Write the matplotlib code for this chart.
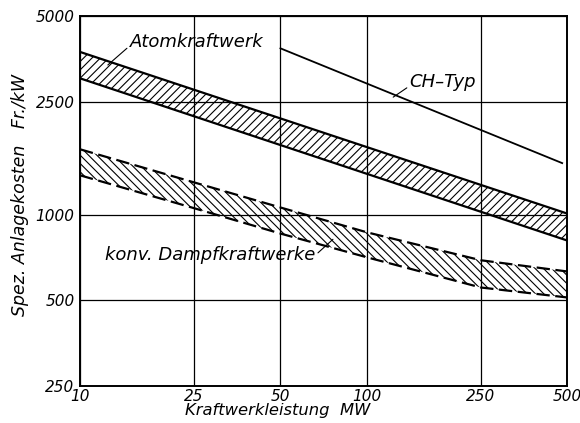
import matplotlib
matplotlib.use("Agg")
import matplotlib.pyplot as plt

plt.rcParams["font.family"] = ["DejaVu Sans"]
plt.rcParams["hatch.linewidth"] = 0.8

x_atom = [10, 500]
atom_oben = [3740, 1010]
atom_unten = [3020, 812]

x_ch = [50, 480]
ch_typ = [3850, 1520]

x_konv = [10, 25, 50, 100, 250, 500]
konv_oben = [1700, 1300, 1061, 868, 692, 632]
konv_unten = [1377, 1055, 859, 709, 555, 512]

xticks = [10, 25, 50, 100, 250, 500]
yticks = [250, 500, 1000, 2500, 5000]

fig = plt.figure(figsize=(5.8, 4.23), dpi=100)
ax = fig.add_axes([0.138, 0.0875, 0.840, 0.8745])
ax.set_xscale("log")
ax.set_yscale("log")
ax.set_xlim(10, 500)
ax.set_ylim(250, 5000)

ax.fill_between(x_atom, atom_unten, atom_oben, facecolor="none", edgecolor="k",
                hatch="////", lw=0)
ax.plot(x_atom, atom_oben, "-k", lw=1.6)
ax.plot(x_atom, atom_unten, "-k", lw=1.6)

ax.fill_between(x_konv, konv_unten, konv_oben, facecolor="none", edgecolor="k",
                hatch="\\\\\\\\", lw=0)
ax.plot(x_konv, konv_oben, "-k", lw=1.6, dashes=(6, 2.5))
ax.plot(x_konv, konv_unten, "-k", lw=1.6, dashes=(6, 2.5))

ax.plot(x_ch, ch_typ, "-k", lw=1.3)

ax.set_xticks(xticks)
ax.set_xticklabels([str(t) for t in xticks])
ax.set_yticks(yticks)
ax.set_yticklabels([str(t) for t in yticks])
ax.minorticks_off()
ax.tick_params(length=0, labelsize=11, pad=4)
ax.tick_params(axis="x", pad=2)
for lab in ax.get_xticklabels() + ax.get_yticklabels():
    lab.set_style("italic")
ax.grid(True, color="k", lw=0.9)
for s in ax.spines.values():
    s.set_linewidth(1.4)

leader = dict(arrowstyle="-", color="k", lw=0.8, shrinkA=0, shrinkB=0)
ax.annotate("Atomkraftwerk", xy=(12.5, 3365), xytext=(14.9, 4045),
            fontsize=13, style="italic", va="center",
            arrowprops=dict(leader, relpos=(0, 0.3)))
ax.annotate("CH\u2013Typ", xy=(123.6, 2593), xytext=(141, 2923),
            fontsize=13, style="italic", va="center",
            arrowprops=dict(leader, relpos=(0, 0.3)))
ax.annotate("konv. Dampfkraftwerke", xy=(76.2, 820), xytext=(12.2, 720),
            fontsize=13, style="italic", va="center",
            arrowprops=dict(leader, relpos=(1, 0.5)))

ax.set_xlabel("Kraftwerkleistung  MW", fontsize=11.8, style="italic")
ax.xaxis.set_label_coords(0.405, -0.045, transform=ax.transAxes)
ax.xaxis.label.set_va("top")
ax.set_ylabel("Spez. Anlagekosten   Fr./kW", fontsize=12.5, style="italic")
ax.yaxis.set_label_coords(-0.105, 0.515, transform=ax.transAxes)

fig.savefig("out.png", dpi=100)
